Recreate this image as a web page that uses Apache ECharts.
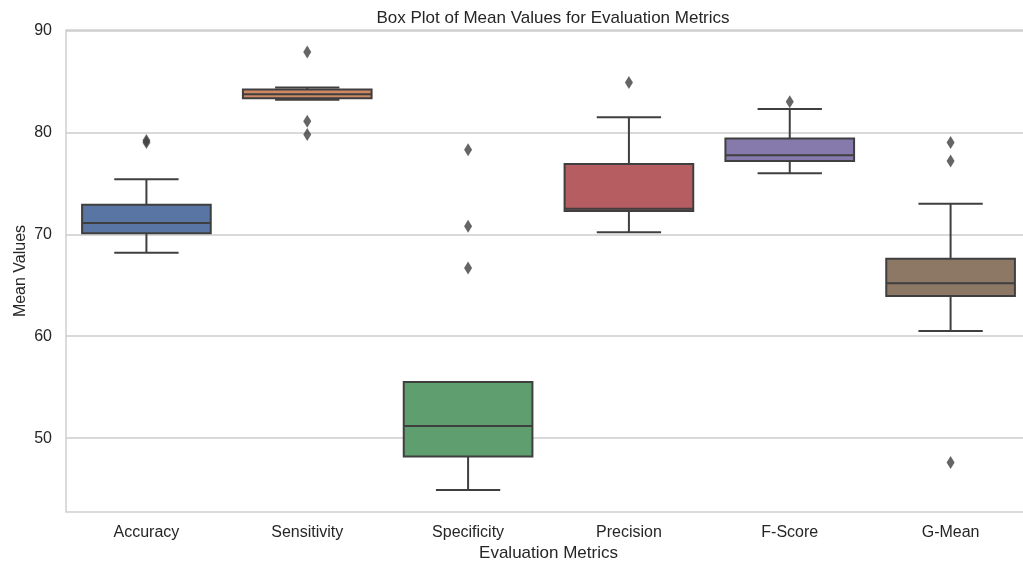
<!DOCTYPE html>
<html>
<head>
<meta charset="utf-8">
<script src="https://cdn.jsdelivr.net/npm/echarts@6/dist/echarts.min.js"></script>
<style>html,body{margin:0;padding:0;background:#fff}#c{width:1023px;height:566px}</style>
</head>
<body>
<div id="c"></div>
<script>
const categories = ['Accuracy', 'Sensitivity', 'Specificity', 'Precision', 'F-Score', 'G-Mean'];
// [lower whisker, Q1, median, Q3, upper whisker]
const accuracyBox = [68.2, 70.1, 71.1, 72.9, 75.4];
const sensitivityBox = [83.2, 83.35, 83.75, 84.2, 84.4];
const specificityBox = [44.9, 48.2, 51.2, 55.5, 55.5];
const precisionBox = [70.2, 72.3, 72.5, 76.9, 81.5];
const fscoreBox = [76.0, 77.2, 77.75, 79.4, 82.3];
const gmeanBox = [60.5, 63.95, 65.2, 67.6, 73.0];
// outliers per category
const accuracyOut = [79.0, 79.2];
const sensitivityOut = [87.9, 81.1, 79.8];
const specificityOut = [78.3, 70.8, 66.7];
const precisionOut = [84.9];
const fscoreOut = [83.0];
const gmeanOut = [79.0, 77.2, 47.6];
const yTicks = [50, 60, 70, 80, 90];

const boxes = [accuracyBox, sensitivityBox, specificityBox, precisionBox, fscoreBox, gmeanBox];
const outs = [accuracyOut, sensitivityOut, specificityOut, precisionOut, fscoreOut, gmeanOut];
const colors = ['#5875A3', '#CC8963', '#5F9E6E', '#B55D60', '#857AAB', '#8D7866'];
const lineColor = '#3f3f3f';

const boxData = boxes.map((b, i) => [i].concat(b));
const outlierData = [];
outs.forEach((arr, i) => arr.forEach(v => outlierData.push([i, v])));

const chart = echarts.init(document.getElementById('c'), null, {renderer: 'canvas'});
const font = 'Liberation Sans, Arial, sans-serif';

function renderBox(params, api) {
  const i = api.value(0);
  const pLow = api.coord([i, api.value(1)]);
  const pQ1 = api.coord([i, api.value(2)]);
  const pMed = api.coord([i, api.value(3)]);
  const pQ3 = api.coord([i, api.value(4)]);
  const pHigh = api.coord([i, api.value(5)]);
  const band = api.size([1, 0])[0];
  const w = band * 0.8;
  const cx = pLow[0];
  const ls = {stroke: lineColor, lineWidth: 2, fill: null};
  return {
    type: 'group',
    children: [
      {type: 'line', shape: {x1: cx, y1: pQ3[1], x2: cx, y2: pHigh[1]}, style: ls},
      {type: 'line', shape: {x1: cx, y1: pQ1[1], x2: cx, y2: pLow[1]}, style: ls},
      {type: 'line', shape: {x1: cx - w / 4, y1: pHigh[1], x2: cx + w / 4, y2: pHigh[1]}, style: ls},
      {type: 'line', shape: {x1: cx - w / 4, y1: pLow[1], x2: cx + w / 4, y2: pLow[1]}, style: ls},
      {type: 'rect', shape: {x: cx - w / 2, y: pQ3[1], width: w, height: pQ1[1] - pQ3[1]},
        style: {fill: colors[params.dataIndex], stroke: lineColor, lineWidth: 2}},
      {type: 'line', shape: {x1: cx - w / 2, y1: pMed[1], x2: cx + w / 2, y2: pMed[1]}, style: ls}
    ]
  };
}

chart.setOption({
  backgroundColor: '#ffffff',
  animation: false,
  title: {
    text: 'Box Plot of Mean Values for Evaluation Metrics',
    left: 548, top: 5, textAlign: 'center',
    textStyle: {fontFamily: font, fontSize: 17, fontWeight: 'normal', color: '#262626'}
  },
  grid: {left: 66, right: -8, top: 30, bottom: 54, show: true, borderColor: '#d0d0d0', borderWidth: 1.5,
    containLabel: false, outerBoundsMode: 'none'},
  xAxis: {
    type: 'category', data: categories, boundaryGap: true,
    name: 'Evaluation Metrics', nameLocation: 'middle', nameGap: 33, nameMoveOverlap: false,
    nameTextStyle: {fontFamily: font, fontSize: 17, color: '#262626'},
    axisLine: {show: false}, axisTick: {show: false},
    axisLabel: {fontFamily: font, fontSize: 16, color: '#262626', margin: 13},
    splitLine: {show: false}
  },
  yAxis: {
    type: 'value', min: 42.75, max: 90.05,
    name: 'Mean Values', nameLocation: 'middle', nameGap: 37, nameMoveOverlap: false,
    nameTextStyle: {fontFamily: font, fontSize: 16, color: '#262626'},
    axisLine: {show: false},
    axisTick: {show: false, customValues: yTicks},
    axisLabel: {fontFamily: font, fontSize: 16, color: '#262626', margin: 14, customValues: yTicks},
    splitLine: {show: true, lineStyle: {color: '#cccccc', width: 1.5}}
  },
  series: [
    {
      type: 'custom',
      renderItem: renderBox,
      encode: {x: 0, y: [1, 2, 3, 4, 5]},
      data: boxData,
      z: 3
    },
    {
      type: 'scatter',
      symbol: 'diamond',
      symbolSize: [8, 13],
      itemStyle: {color: lineColor},
      data: outlierData,
      z: 4
    }
  ]
});
</script>
</body>
</html>
